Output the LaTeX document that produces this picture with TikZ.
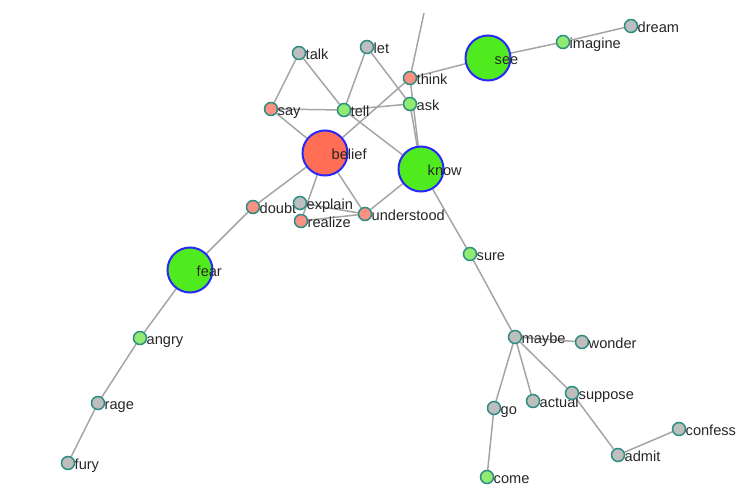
\documentclass[tikz,border=0pt]{standalone}
\usepackage{fontspec}
\setmainfont{Liberation Sans}
\definecolor{rim}{RGB}{45,140,130}
\definecolor{hubrim}{RGB}{40,40,250}
\definecolor{greyfill}{RGB}{190,190,190}
\definecolor{salmonfill}{RGB}{250,145,130}
\definecolor{leaffill}{RGB}{145,235,115}
\definecolor{hubgreen}{RGB}{80,235,30}
\definecolor{hubred}{RGB}{255,110,85}
\definecolor{linegrey}{RGB}{165,165,165}
\pgfdeclarelayer{background}
\pgfsetlayers{background,main}

\begin{document}
\begin{tikzpicture}[x=1pt, y=-1pt,
  word/.style={circle, draw=rim, line width=1.5pt, minimum size=13pt, inner sep=0pt},
  grey/.style={word, fill=greyfill},
  warm/.style={word, fill=salmonfill},
  leaf/.style={word, fill=leaffill},
  hub/.style={circle, draw=hubrim, line width=2pt, minimum size=45pt, inner sep=0pt},
  tag/.style={anchor=base west, inner sep=0pt, font=\fontsize{14.6}{16}\selectfont, text=black!85, xshift=6.5pt, yshift=-6.5pt},
  edge/.style={draw=linegrey, line width=1.5pt}
]
  \useasboundingbox (0,0) rectangle (754,502);

  % top cluster
  \node[grey] (talk) at (299,53) {};   \node[tag] (talk-t) at (talk) {talk};
  \node[grey] (let) at (367,47) {};    \node[tag] (let-t) at (let) {let};
  \node[warm] (think) at (410,78) {};  \node[tag] (think-t) at (think) {think};
  \node[leaf] (ask) at (410,104) {};   \node[tag] (ask-t) at (ask) {ask};
  \node[warm] (say) at (271,109) {};   \node[tag] (say-t) at (say) {say};
  \node[leaf] (tell) at (344,110) {};  \node[tag] (tell-t) at (tell) {tell};
  \coordinate (offtop) at (424,13);

  \node[hub, fill=hubgreen] (see) at (488,58) {};  \node[tag] (see-t) at (see) {see};
  \node[leaf] (imagine) at (563,42) {};            \node[tag] (imagine-t) at (imagine) {imagine};
  \node[grey] (dream) at (631,26) {};              \node[tag] (dream-t) at (dream) {dream};

  % middle
  \node[hub, fill=hubred] (belief) at (325,153) {};  \node[tag] (belief-t) at (belief) {belief};
  \node[hub, fill=hubgreen] (know) at (421,169) {};  \node[tag] (know-t) at (know) {know};
  \node[warm] (doubt) at (253,207) {};       \node[tag] (doubt-t) at (doubt) {doubt};
  \node[grey] (explain) at (300,203) {};     \node[tag] (explain-t) at (explain) {explain};
  \node[warm] (realize) at (301,221) {};     \node[tag] (realize-t) at (realize) {realize};
  \node[warm] (understood) at (365,214) {};  \node[tag] (understood-t) at (understood) {understood};
  \node[leaf] (sure) at (470,254) {};        \node[tag] (sure-t) at (sure) {sure};

  % left branch
  \node[hub, fill=hubgreen] (fear) at (190,270) {};  \node[tag] (fear-t) at (fear) {fear};
  \node[leaf] (angry) at (140,338) {};  \node[tag] (angry-t) at (angry) {angry};
  \node[grey] (rage) at (98,403) {};    \node[tag] (rage-t) at (rage) {rage};
  \node[grey] (fury) at (68,463) {};    \node[tag] (fury-t) at (fury) {fury};

  % bottom right branch
  \node[grey] (maybe) at (515,337) {};    \node[tag] (maybe-t) at (maybe) {maybe};
  \node[grey] (wonder) at (582,342) {};   \node[tag] (wonder-t) at (wonder) {wonder};
  \node[grey] (go) at (494,408) {};       \node[tag] (go-t) at (go) {go};
  \node[grey] (actual) at (533,401) {};   \node[tag] (actual-t) at (actual) {actual};
  \node[grey] (suppose) at (572,393) {};  \node[tag] (suppose-t) at (suppose) {suppose};
  \node[grey] (admit) at (618,455) {};    \node[tag] (admit-t) at (admit) {admit};
  \node[grey] (confess) at (679,429) {};  \node[tag] (confess-t) at (confess) {confess};
  \node[leaf] (come) at (487,477) {};     \node[tag] (come-t) at (come) {come};

  % links
  \begin{pgfonlayer}{background}
    \draw[edge] (talk) -- (say);
    \draw[edge] (talk) -- (tell);
    \draw[edge] (let) -- (tell);
    \draw[edge] (let) -- (ask);
    \draw[edge] (say) -- (tell);
    \draw[edge] (tell) -- (ask);
    \draw[edge] (say) -- (belief);
    \draw[edge] (think) -- (belief);
    \draw[edge] (tell) -- (know);
    \draw[edge] (think) -- (see);
    \draw[edge] (think) -- (know);
    \draw[edge] (ask) -- (know);
    \draw[edge] (think) -- (offtop);
    \draw[edge] (see) -- (imagine);
    \draw[edge] (imagine) -- (dream);
    \draw[edge] (belief) -- (doubt);
    \draw[edge] (doubt) -- (fear);
    \draw[edge] (belief) -- (realize);
    \draw[edge] (belief) -- (understood);
    \draw[edge] (explain) -- (understood);
    \draw[edge] (realize) -- (understood);
    \draw[edge] (understood) -- (know);
    \draw[edge] (know) -- (sure);
    \draw[edge] (sure) -- (maybe);
    \draw[edge] (maybe) -- (wonder);
    \draw[edge] (maybe) -- (go);
    \draw[edge] (maybe) -- (actual);
    \draw[edge] (maybe) -- (suppose);
    \draw[edge] (suppose) -- (admit);
    \draw[edge] (admit) -- (confess);
    \draw[edge] (go) -- (come);
    \draw[edge] (fear) -- (angry);
    \draw[edge] (angry) -- (rage);
    \draw[edge] (rage) -- (fury);
  \end{pgfonlayer}
\end{tikzpicture}
\end{document}
